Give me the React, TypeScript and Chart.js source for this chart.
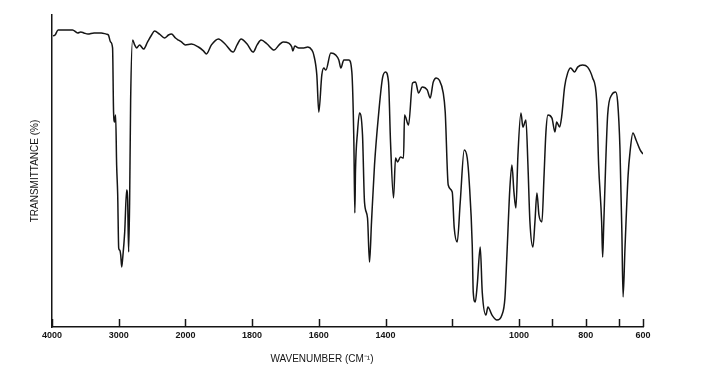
import React, { useEffect, useRef } from "react";
import { Chart, registerables } from "chart.js";

Chart.register(...registerables);

// Infrared spectrum (wavenumber in cm^-1, transmittance in %)
const WAVENUMBERS = [
  3985, 3954, 3908, 3800, 3692, 3615, 3569, 3523, 3462, 3369, 3262, 3185, 3154, 3123, 3092,
  3077, 3062, 3046, 3031, 3015, 3000, 2985, 2970, 2955, 2940, 2910, 2881, 2866, 2851, 2836,
  2821, 2791, 2761, 2731, 2687, 2627, 2567, 2507, 2463, 2388, 2313, 2254, 2209, 2149, 2104,
  2060, 2000, 1982, 1961, 1946, 1937, 1922, 1901, 1881, 1857, 1845, 1833, 1815, 1797, 1785,
  1773, 1755, 1734, 1719, 1707, 1690, 1681, 1678, 1672, 1660, 1645, 1633, 1621, 1615, 1606,
  1600, 1591, 1585, 1579, 1564, 1549, 1540, 1534, 1525, 1510, 1501, 1495, 1492, 1490, 1484,
  1478, 1469, 1463, 1454, 1448, 1442, 1433, 1421, 1409, 1400, 1391, 1385, 1376, 1370, 1364,
  1355, 1346, 1343, 1331, 1319, 1310, 1301, 1290, 1275, 1266, 1257, 1248, 1239, 1227, 1221,
  1212, 1200, 1194, 1185, 1176, 1164, 1155, 1149, 1140, 1137, 1131, 1125, 1116, 1110, 1099,
  1093, 1081, 1066, 1051, 1042, 1036, 1027, 1021, 1015, 1009, 1003, 994, 988, 979, 973,
  967, 958, 952, 946, 940, 931, 925, 919, 913, 901, 892, 887, 878, 872, 863,
  854, 845, 833, 824, 809, 794, 779, 767, 761, 752, 749, 746, 740, 734, 722,
  710, 704, 696, 688, 683, 675, 662, 654, 642, 629, 612, 600,
];
const TRANSMITTANCE = [
  94.7, 95, 96.7, 96.7, 96.7, 95.7, 96, 95.7, 95.3, 95.7, 95.7, 95.3, 95, 92.7, 90.7,
  69.3, 66, 68.3, 51.7, 41.7, 24, 23.3, 21.7, 17.7, 20.7, 29.3, 43.3, 40, 22.7, 40,
  73.3, 93.3, 91.7, 90.7, 91.7, 90.3, 92.7, 95, 96.3, 95.3, 94, 95, 95.3, 94, 93.3,
  92.7, 91.7, 92, 91, 89.7, 88.7, 91.7, 93.7, 92, 89.3, 91.7, 93.7, 92, 89.3, 91.7,
  93.3, 92, 90, 91.7, 92.7, 92.3, 91, 89.7, 91.3, 90.7, 90.7, 91, 90, 88.3, 81.7,
  69.3, 81.7, 84, 83.3, 89, 88.3, 86.7, 84, 86.7, 86.7, 82.7, 60, 35.7, 50, 62.7,
  69, 61.7, 39.3, 34, 19.3, 32.7, 51.7, 68.3, 80.7, 82.7, 79.3, 59.3, 40.7, 54, 52.7,
  54.3, 54, 68.3, 65, 79, 79.3, 75.7, 77.7, 76.7, 74, 79.3, 80.7, 80, 75.7, 69.3,
  45, 42.7, 30.7, 26, 39.3, 56.7, 54, 46, 25, 9.3, 6, 11.7, 24.3, 9.3, 1.7,
  4.3, 1.7, 0, 1.7, 7.3, 21.7, 44.3, 51.7, 42.7, 37.3, 55, 69, 64.3, 66.7, 51.7,
  32.7, 24.3, 32.7, 42.3, 35, 32.7, 47.3, 62.7, 68.3, 67.3, 62.7, 66, 64.3, 67.7, 77.7,
  82.3, 84, 82.7, 84.3, 85, 84.3, 80.7, 73.3, 51.7, 32.7, 21, 30.7, 51.7, 68.3, 75,
  76, 72.7, 57.3, 29.3, 7.7, 24, 48.3, 56, 62.3, 60, 56.7, 55.3,
];

// Tick marks of the wavenumber axis and their labels (1200, 900 and 700 are unlabelled)
const TICK_WAVENUMBERS = [4000, 3000, 2000, 1800, 1600, 1400, 1200, 1000, 900, 800, 700, 600];
const TICK_LABELS = ["4000", "3000", "2000", "1800", "1600", "1400", "", "1000", "", "800", "", "600"];

// Chart paper scale: piecewise-linear wavenumber axis (breakpoints and their axis units)
const SCALE_BREAK_WN = [4000, 3000, 2000, 700, 600];
const SCALE_BREAK_UNIT = [0, 1, 2, 8.5, 8.86];

const X_TITLE = "WAVENUMBER (CM\u207B\u00B9)";
const Y_TITLE = "TRANSMITTANCE (%)";

function toAxis(wn: number): number {
  for (let i = 0; i < SCALE_BREAK_WN.length - 1; i++) {
    const a = SCALE_BREAK_WN[i];
    const b = SCALE_BREAK_WN[i + 1];
    if (wn <= a && wn >= b) {
      const t = (a - wn) / (a - b);
      return SCALE_BREAK_UNIT[i] + t * (SCALE_BREAK_UNIT[i + 1] - SCALE_BREAK_UNIT[i]);
    }
  }
  return wn > SCALE_BREAK_WN[0] ? SCALE_BREAK_UNIT[0] : SCALE_BREAK_UNIT[SCALE_BREAK_UNIT.length - 1];
}

const FONT = "'Liberation Sans', Arial, Helvetica, sans-serif";
const INK = "#151515";

export default function App() {
  const ref = useRef<HTMLCanvasElement | null>(null);

  useEffect(() => {
    const canvas = ref.current;
    if (!canvas) return;

    const inwardTicks = {
      id: "inwardTicks",
      afterDraw(chart: any) {
        const s = chart.scales.x;
        const ctx = chart.ctx;
        const bottom = chart.chartArea.bottom;
        ctx.save();
        ctx.strokeStyle = INK;
        ctx.lineWidth = 1.5;
        for (const t of s.ticks) {
          const px = Math.round(s.getPixelForValue(t.value)) + 0.5;
          ctx.beginPath();
          ctx.moveTo(px, bottom);
          ctx.lineTo(px, bottom - 8);
          ctx.stroke();
        }
        ctx.fillStyle = INK;
        ctx.font = `10px ${FONT}`;
        ctx.textAlign = "center";
        ctx.textBaseline = "middle";
        ctx.fillText(X_TITLE, 322, 359);
        ctx.restore();
      },
    };

    const chart = new Chart(canvas, {
      type: "line",
      data: {
        datasets: [
          {
            data: WAVENUMBERS.map((w, i) => ({ x: toAxis(w), y: TRANSMITTANCE[i] })),
            borderColor: INK,
            borderWidth: 1.5,
            pointRadius: 0,
            cubicInterpolationMode: "monotone",
            fill: false,
          },
        ],
      },
      options: {
        animation: false,
        responsive: false,
        devicePixelRatio: 1,
        layout: { padding: { top: 15, right: 68, left: 0, bottom: 0 } },
        plugins: { legend: { display: false }, tooltip: { enabled: false } },
        scales: {
          x: {
            type: "linear",
            min: 0,
            max: SCALE_BREAK_UNIT[SCALE_BREAK_UNIT.length - 1],
            afterBuildTicks: (s: any) => {
              s.ticks = TICK_WAVENUMBERS.map((w) => ({ value: toAxis(w) }));
            },
            afterFit: (s: any) => {
              s.height = 46;
            },
            grid: { display: false, drawTicks: false },
            border: { display: true, color: INK, width: 1.5 },
            ticks: {
              autoSkip: false,
              maxRotation: 0,
              padding: 3,
              color: INK,
              font: { family: FONT, size: 9, weight: "bold" },
              callback: (_v: any, i: number) => TICK_LABELS[i],
            },
          },
          y: {
            type: "linear",
            min: -2.33,
            max: 101.67,
            afterFit: (s: any) => {
              s.width = 52;
            },
            grid: { display: false, drawTicks: false },
            border: { display: true, color: INK, width: 1.5 },
            ticks: { display: false },
            title: {
              display: true,
              text: Y_TITLE,
              color: INK,
              font: { family: FONT, size: 10 },
              padding: { top: 29, bottom: 0 },
            },
          },
        },
      },
      plugins: [inwardTicks],
    } as any);

    return () => chart.destroy();
  }, []);

  return (
    <div style={{ position: "fixed", left: 0, top: 0, width: 711, height: 373, background: "#fff" }}>
      <canvas ref={ref} width={711} height={373} style={{ display: "block", width: 711, height: 373 }} />
    </div>
  );
}
